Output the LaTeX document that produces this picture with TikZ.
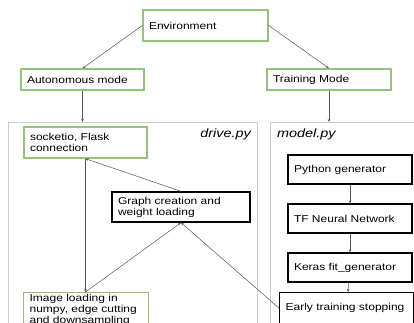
\documentclass[tikz,border=0pt]{standalone}
\usepackage{fontspec}
\setmainfont[FakeStretch=1.2]{Liberation Sans}
\usetikzlibrary{arrows.meta}
\definecolor{boxgreen}{RGB}{147,196,125}
\definecolor{panelgray}{RGB}{204,204,204}
\definecolor{linegray}{RGB}{85,85,85}

\begin{document}
\begin{tikzpicture}[x=1pt,y=-1pt]
                  \tikzstyle{every node}+=[inner sep=0pt, font=\fontsize{10}{11}\selectfont]
                  \tikzstyle{greenbox}=[draw=boxgreen, line width=1.3pt, align=left, inner xsep=6pt]
                  \tikzstyle{blackbox}=[draw=black, line width=1.3pt, align=left, inner xsep=6pt]
                  \tikzstyle{panel}=[draw=panelgray, line width=1.2pt]
                  \tikzstyle{link}=[draw=linegray, line width=0.5pt, -{Stealth[length=3pt,width=2.5pt]}]
                  \useasboundingbox (0,0) rectangle (414,322);
                  \node [panel, minimum width=249pt, minimum height=215pt, anchor=north west] (drive) at (8,122) {};
                  \node [panel, minimum width=160pt, minimum height=215pt, anchor=north west] (model) at (270,122) {};
                  \node [font=\fontsize{12}{14}\selectfont\itshape, anchor=east] (drivelbl) at (251,134) {drive.py};
                  \node [font=\fontsize{12}{14}\selectfont\itshape, anchor=west] (modellbl) at (277,134) {model.py};
                  \node [greenbox, text width=113pt, minimum height=31pt] (env) at (205.5,25.5) {Environment};
                  \node [greenbox, text width=111pt, minimum height=21pt] (auto) at (82.5,79.5) {Autonomous mode};
                  \node [greenbox, text width=112pt, minimum height=21pt] (train) at (329,79.5) {Training Mode};
                  \node [greenbox, text width=111pt, minimum height=31pt] (socket) at (85.5,142.5) {socketio, Flask\\connection};
                  \node [blackbox, text width=126pt, minimum height=30pt] (graph) at (181,207) {Graph creation and\\weight loading};
                  \node [greenbox, text width=113pt, inner ysep=1.5pt, anchor=north west] (img) at (23,292) {Image loading in\\numpy, edge cutting\\and downsampling};
                  \node [blackbox, text width=112pt, minimum height=29pt] (pygen) at (350,169.5) {Python generator};
                  \node [blackbox, text width=112pt, minimum height=29pt] (tfnet) at (350,218.5) {TF Neural Network};
                  \node [blackbox, text width=112pt, minimum height=29pt] (keras) at (350,267.5) {Keras fit\_generator};
                  \node [blackbox, text width=122pt, minimum height=31pt, anchor=north west] (early) at (279,292) {Early training stopping};
                  \draw [link] (env.west) -- (auto.north);
                  \draw [link] (env.east) -- (train.north);
                  \draw [link] (auto.south) -- (auto.south |- drive.north);
                  \draw [link] (train.south) -- (train.south |- model.north);
                  \draw [link] (socket.south) -- (socket.south |- img.north);
                  \draw [link] (graph.north) -- (socket.south);
                  \draw [link] (socket.south |- img.north) -- (graph.south);
                  \draw [link] (early.west) -- (graph.south);
                  \draw [link] (pygen) -- (tfnet);
                  \draw [link] (tfnet) -- (keras);
                  \draw [link] (keras) -- (early);
              \end{tikzpicture}
\end{document}
